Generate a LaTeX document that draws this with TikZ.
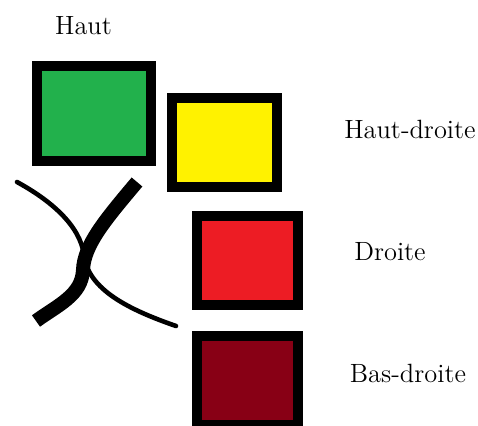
\documentclass[tikz,border=0pt]{standalone}
\usepackage{tikz}
\usetikzlibrary{shapes,arrows}
\definecolor{paintgreen}{RGB}{34,177,76}
\definecolor{paintyellow}{RGB}{255,242,0}
\definecolor{paintred}{RGB}{237,28,36}
\definecolor{paintdarkred}{RGB}{136,0,21}
\tikzstyle{case}=[draw=black, line width=5pt, inner sep=0pt,
    minimum width=50.5pt, minimum height=44.5pt]
\tikzstyle{haut}=[case, fill=paintgreen, minimum width=57pt, minimum height=47.5pt]
\tikzstyle{hautdroite}=[case, fill=paintyellow, minimum width=52.5pt]
\tikzstyle{droite}=[case, fill=paintred]
\tikzstyle{basdroite}=[case, fill=paintdarkred]
\tikzstyle{etiquette}=[anchor=base, inner sep=0pt,
    font=\fontsize{13.2}{16}\selectfont]

\begin{document}
\begin{tikzpicture}[x=0.5pt,y=-0.5pt]
\clip (0,0) rectangle (478,425);
% Haut
\path (94,113.5) node [haut] (H) {};
\path (83.5,34) node [etiquette] (Hl) {Haut};
% Haut-droite
\path (224.5,142.5) node [hautdroite] (HD) {};
\path (410,138) node [etiquette] (HDl) {Haut-droite};
% Droite
\path (247.5,260.5) node [droite] (D) {};
\path (390,260) node [etiquette] (Dl) {Droite};
% Bas-droite
\path (247.5,380.5) node [basdroite] (BD) {};
\path (408,382) node [etiquette] (BDl) {Bas-droite};
% croix
\draw [line width=2.3pt, line cap=round]
  (17,182) .. controls (50,200) and (80,225) .. (84,255)
  .. controls (88,290) and (130,310) .. (176,326);
\draw [line width=7pt]
  (137,182) .. controls (105,220) and (84,245) .. (83,270)
  .. controls (82,295) and (58,305) .. (36,321);
\end{tikzpicture}
\end{document}
